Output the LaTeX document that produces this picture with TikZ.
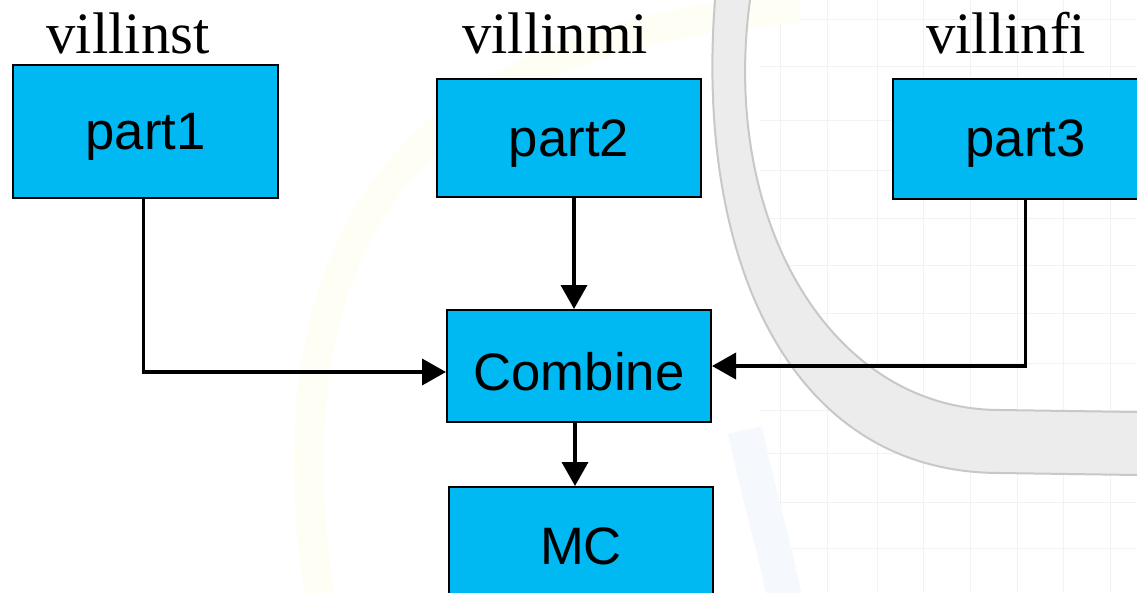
\documentclass[tikz,border=0pt]{standalone}
\usepackage{fontspec}
\setmainfont{Liberation Serif}
\newfontfamily\arialfont{Liberation Sans}
\usetikzlibrary{arrows.meta}
\definecolor{boxblue}{RGB}{0,185,242}
\definecolor{ringfill}{RGB}{236,236,236}
\definecolor{ringedge}{RGB}{200,200,200}
\definecolor{gridcol}{RGB}{242,242,242}
\definecolor{paleyellow}{RGB}{254,254,245}
\definecolor{paleblue}{RGB}{245,248,252}
\newcommand{\dn}[1]{\raisebox{-4pt}[\height][\depth]{#1}}
\tikzset{
  box/.style={draw=black, line width=1.5pt, fill=boxblue, inner sep=0pt,
    font=\arialfont\fontsize{39.5}{46}\selectfont},
  lbl/.style={anchor=base, inner sep=0pt, font=\fontsize{44}{50}\selectfont},
  conn/.style={draw=black, line width=2.8pt, -{Triangle[length=18pt,width=19.5pt]}},
  bgline/.style={draw=gridcol, line width=0.75pt}
}
\begin{document}
\begin{tikzpicture}[x=0.75pt,y=-0.75pt]
\useasboundingbox (0,0) rectangle (1137,592);
\clip (0,0) rectangle (1137,592);
\fill[white] (0,0) rectangle (1137,592);
% background decoration
\foreach \gx in {780,827,877,923,970,1017,1063,1110} {\draw[bgline] (\gx,0) -- (\gx,592);}
\foreach \gy in {20,67,120,170,218,265,313,363,410,453,502,548} {\draw[bgline] (760,\gy) -- (1137,\gy);}
\draw[paleyellow, line width=22pt] (800,8) .. controls (520,30) and (250,140) .. (320,600);
\draw[paleblue, line width=26pt] (745,430) .. controls (760,500) and (775,550) .. (785,600);
\fill[ringfill] (715,0) .. controls (695,260) and (790,473) .. (1000,473) -- (1137,475)
  -- (1137,412) -- (1000,410) .. controls (830,410) and (720,220) .. (750,0) -- cycle;
\draw[ringedge, line width=1.5pt] (715,0) .. controls (695,260) and (790,473) .. (1000,473) -- (1137,475);
\draw[ringedge, line width=1.5pt] (750,0) .. controls (720,220) and (830,410) .. (1000,410) -- (1137,412);
% labels
\node[lbl] (l1) at (128,54) {villinst};
\node[lbl] (l2) at (555,54) {villinmi};
\node[lbl] (l3) at (1006,54) {villinfi};
% boxes
\node[box, minimum width=198.75pt, minimum height=99.75pt] (part1) at (145.5,131.5) {\dn{part1}};
\node[box, minimum width=198pt, minimum height=88.5pt] (part2) at (569,138) {\dn{part2}};
\node[box, minimum width=198.75pt, minimum height=90pt] (part3) at (1025.5,138.5) {\dn{part3}};
\node[box, minimum width=198pt, minimum height=84pt] (comb) at (579,366) {\dn{Combine}};
\node[box, minimum width=198pt, minimum height=88.5pt, anchor=north] (mc) at (581,486) {MC};
% connectors
\coordinate (c0) at ([xshift=-1.5pt]part1.south);
\coordinate (c2) at ([xshift=-3.75pt]comb.north);
\coordinate (c1) at ([yshift=-4.5pt]comb.west);
\coordinate (c4) at ([xshift=-3pt]comb.south);
\draw[conn] (c0) |- (c1);
\draw[conn] (part2.south -| c2) -- (c2);
\draw[conn] (part3.south) |- (comb.east);
\draw[conn] (c4) -- (c4 |- mc.north);
\end{tikzpicture}
\end{document}
